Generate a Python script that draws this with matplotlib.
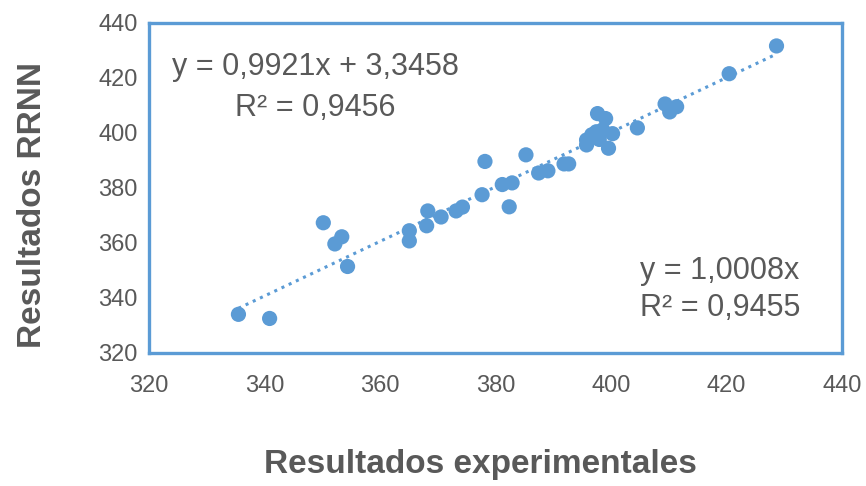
import numpy as np
import matplotlib
matplotlib.use("Agg")
import matplotlib.pyplot as plt

x_exp = [335.5, 340.9, 350.2, 352.2, 353.4, 354.4, 365.1, 365.1, 368.3, 368.1,
         370.6, 373.2, 374.3, 377.7, 378.2, 382.4, 381.2, 382.9, 385.3, 387.5,
         389.1, 391.9, 392.7, 395.8, 395.8, 397.7, 399.1, 397.5, 398.6, 400.3,
         399.6, 396.7, 398.0, 404.6, 409.4, 410.2, 411.4, 420.5, 428.7]
y_rrnn = [334.0, 332.5, 367.3, 359.6, 362.2, 351.4, 364.4, 360.7, 371.6, 366.2,
          369.4, 371.6, 373.0, 377.5, 389.6, 373.1, 381.2, 381.8, 392.0, 385.4,
          386.2, 388.7, 388.7, 397.4, 395.6, 407.0, 405.2, 400.4, 401.1, 399.7,
          394.4, 399.3, 397.6, 401.8, 410.5, 407.6, 409.5, 421.5, 431.6]

slope, intercept = 0.9921, 3.3458
ticks = [320, 340, 360, 380, 400, 420, 440]

BLUE = "#5B9BD5"
GREY = "#595959"
FONT = ["Liberation Sans", "DejaVu Sans"]

fig = plt.figure(figsize=(8.66, 4.86), dpi=100)
ax = fig.add_axes([0.172, 0.274, 0.8, 0.679])

xs = np.array([min(x_exp), max(x_exp)])
ax.plot(xs, slope * xs + intercept, color=BLUE, linestyle=(0, (1, 1.6)),
        linewidth=2.2, zorder=2)
ax.scatter(x_exp, y_rrnn, s=120, color=BLUE, edgecolors="none", zorder=3)

ax.set_xlim(320, 440)
ax.set_ylim(320, 440)
ax.set_xticks(ticks)
ax.set_yticks(ticks)
ax.tick_params(length=0, labelsize=17, labelcolor=GREY)
ax.tick_params(axis="x", pad=16)
ax.tick_params(axis="y", pad=8)
for lbl in ax.get_xticklabels() + ax.get_yticklabels():
    lbl.set_family(FONT)

for sp in ax.spines.values():
    sp.set_color(BLUE)
    sp.set_linewidth(2.4)

ax.set_xlabel("Resultados experimentales", fontsize=24, fontweight="bold",
              color=GREY, family=FONT)
ax.set_ylabel("Resultados RRNN", fontsize=24, fontweight="bold",
              color=GREY, family=FONT)
ax.xaxis.set_label_coords(0.479, -0.29)
ax.yaxis.set_label_coords(-0.145, 0.448)

txt = dict(transform=ax.transAxes, fontsize=22, color=GREY, family=FONT,
           ha="center", va="center")
ax.text(0.24, 0.867, "y = 0,9921x + 3,3458", **txt)
ax.text(0.24, 0.742, "R² = 0,9456", **txt)
ax.text(0.824, 0.248, "y = 1,0008x", **txt)
ax.text(0.824, 0.136, "R² = 0,9455", **txt)

fig.savefig("out.png", dpi=100)
plt.close(fig)
